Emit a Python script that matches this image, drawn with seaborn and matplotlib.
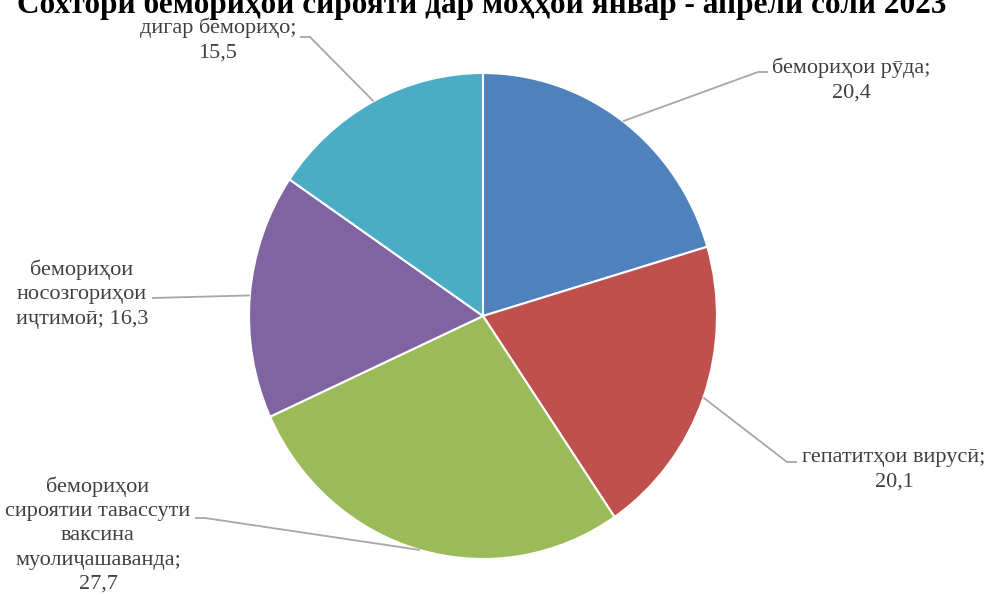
import numpy as np
import matplotlib
matplotlib.use("Agg")
import matplotlib.pyplot as plt
import seaborn as sns

# data
categories = ["бемориҳои рӯда;",
              "гепатитҳои вирусӣ;",
              "бемориҳои\nсироятии тавассути\nваксина\nмуолиҷашаванда;",
              "бемориҳои\nносозгориҳои\nиҷтимоӣ;",
              "дигар бемориҳо;"]
values = [20.4, 20.1, 27.7, 16.3, 15.5]
value_sep = ["\n", "\n", "\n", " ", "\n"]
colors = ["#4F81BD", "#C0504D", "#9BBB59", "#8064A2", "#4BACC6"]
title = "Сохтори бемориҳои сироятӣ дар моҳҳои январ - апрели соли 2023"

sns.set_theme(style="white")
plt.rcParams["font.family"] = ["Liberation Serif", "DejaVu Serif"]

W, H = 984, 595
fig = plt.figure(figsize=(W / 100, H / 100), dpi=100)

# pie geometry in pixels (slightly elliptical like the original)
cx, cy, rx, ry = 483, 316, 234, 243
ax = fig.add_axes([(cx - rx) / W, 1 - (cy + ry) / H, 2 * rx / W, 2 * ry / H])
wedges, _ = ax.pie(values, colors=colors, startangle=90, counterclock=False,
                   wedgeprops=dict(edgecolor="white", linewidth=1.5))
ax.set_aspect("auto")
ax.set_xlim(-1, 1)
ax.set_ylim(-1, 1)
ax.axis("off")

# overlay in pixel coords (y down) for labels and leader lines
ov = fig.add_axes([0, 0, 1, 1], facecolor="none")
ov.set_xlim(0, W)
ov.set_ylim(H, 0)
ov.axis("off")

# label layout: text center and leader line bend points
text_pos = [(851, 80), (894, 470), (98, 535), (82, 294), (218, 40)]
bends = [[(758, 72), (768, 72)],
         [(787, 462), (797, 462)],
         [(205, 518), (195, 518)],
         [(152, 298)],
         [(310, 37), (300, 37)]]

total = sum(values)
start = 90.0
for i, v in enumerate(values):
    span = 360.0 * v / total
    mid = np.deg2rad(start - span / 2)
    start -= span
    ex = cx + rx * np.cos(mid)
    ey = cy - ry * np.sin(mid)
    pts = [(ex, ey)] + bends[i]
    ov.plot([p[0] for p in pts], [p[1] for p in pts], color="#A6A6A6",
            lw=1.3, solid_capstyle="butt")
    label = categories[i] + value_sep[i] + f"{v:.1f}".replace(".", ",")
    ov.text(text_pos[i][0], text_pos[i][1], label, ha="center", va="center",
            fontsize=16, color="#404040", linespacing=1.38, multialignment="center")

# the title sits partly above the top edge, as in the original
ov.text(482, 13, title, ha="center", va="baseline", fontsize=22.5,
        fontweight="bold", color="black")

fig.savefig("out.png", dpi=100)
